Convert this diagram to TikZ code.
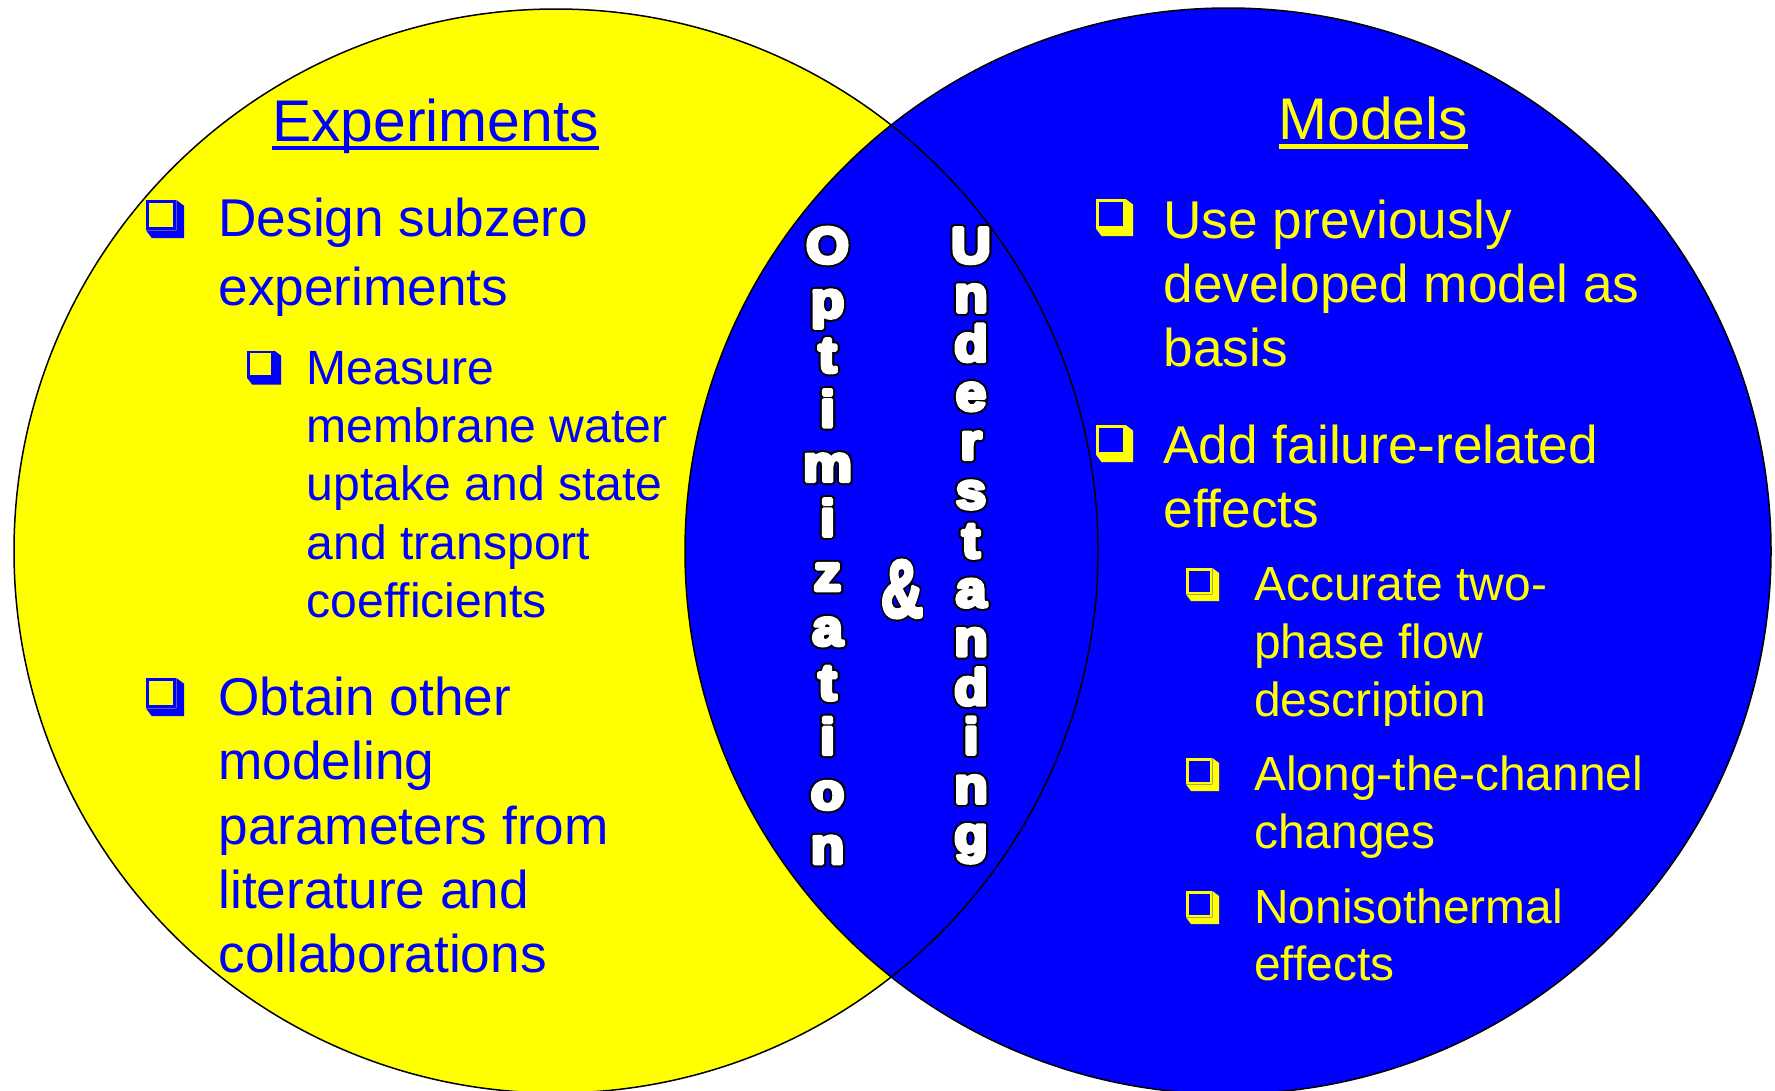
\documentclass[tikz,border=0pt]{standalone}
\usepackage{fontspec}
\setmainfont{Liberation Sans}
\newfontfamily\blackfont{Liberation Sans Bold}
\definecolor{venY}{RGB}{255,255,0}
\definecolor{venB}{RGB}{0,0,255}
% heavy white letter with a black outline: a thickly stroked black copy under a stroked white copy
\newcommand\outlined[1]{\rlap{\color{black}\special{pdf:code 2 Tr 7.6 w 1 j 0 0 0 RG}#1\special{pdf:code 0 Tr}}{\color{white}\special{pdf:code 2 Tr 3.6 w 1 j 1 1 1 RG}#1\special{pdf:code 0 Tr}}}
\newcommand\vlet[1]{\scalebox{1.08}[1]{\outlined{#1}}}
\begin{document}
\begin{tikzpicture}[x=1pt,y=-1pt,
  tx/.style={inner sep=0pt, outer sep=0pt, align=left, anchor=base west},
  lt/.style={tx, text=venB},
  rt/.style={tx, text=venY},
  big/.style={font=\fontsize{58.8}{60}\selectfont},
  vl/.style={inner sep=0pt, anchor=base, font=\blackfont\fontsize{51}{51}\selectfont},
  cbox/.pic={
    \fill (0.8*#1,0) -- (#1,0.15*#1) -- (#1,#1) -- (0.15*#1,#1) -- (0,0.8*#1) -- (0.8*#1,0.8*#1) -- cycle;
    \draw[line width=0.08*#1] (0.04*#1,0.04*#1) rectangle (0.76*#1,0.76*#1);
  }
]
\useasboundingbox (0,0) rectangle (1775,1090);
\fill[white] (0,0) rectangle (1775,1090);
% circles
\fill[venY] (556,551) circle[radius=542pt];
\fill[venB] (1228,551) circle[radius=543pt];
\draw[line width=1.5pt] (556,551) circle[radius=542pt];
\draw[line width=1.5pt] (1228,551) circle[radius=543pt];

% left side (multi-line nodes: anchor is the baseline of the last line)
\node[lt, big] (exp) at (272,141) {Experiments};
\draw[venB, line width=4.5pt] ([yshift=-7pt]exp.base west) -- ([yshift=-7pt]exp.base east);
\pic[color=venB] at (146,200) {cbox=38};
\node[lt, font=\fontsize{53.2}{68.3}\selectfont] (l1) at (218.5,305) {Design subzero\\experiments};
\pic[color=venB] at (247,350.5) {cbox=34};
\node[lt, font=\fontsize{48.1}{58.3}\selectfont] (l1a) at (306.8,617.5) {Measure\\membrane water\\uptake and state\\and transport\\coefficients};
\pic[color=venB] at (146,678) {cbox=38};
\node[lt, font=\fontsize{53.2}{64.2}\selectfont] (l2) at (218.5,972.5) {Obtain other\\modeling\\parameters from\\literature and\\collaborations};

% right side
\node[rt, big] (mod) at (1278.5,139.3) {Models};
\draw[venY, line width=4.5pt] ([yshift=-7pt]mod.base west) -- ([yshift=-7pt]mod.base east);
\pic[color=venY] at (1096,199) {cbox=37};
\node[rt, font=\fontsize{53.2}{64}\selectfont] (r1) at (1163.5,366) {Use previously\\developed model as\\basis};
\pic[color=venY] at (1096,425) {cbox=37};
\node[rt, font=\fontsize{53.2}{63.3}\selectfont] (r2) at (1163.5,527) {Add failure-related\\effects};
\pic[color=venY] at (1186,568) {cbox=33};
\node[rt, font=\fontsize{47.9}{57.7}\selectfont] (r2a) at (1254.3,716.1) {Accurate two-\\phase flow\\description};
\pic[color=venY] at (1186,758) {cbox=33};
\node[rt, font=\fontsize{47.9}{58}\selectfont] (r2b) at (1254.3,848) {Along-the-channel\\changes};
\pic[color=venY] at (1186,891) {cbox=33};
\node[rt, font=\fontsize{47.9}{57}\selectfont] (r2c) at (1254.3,980) {Nonisothermal\\effects};

% vertical words
\foreach \l [count=\i from 0] in {O,p,t,i,m,i,z,a,t,i,o,n}
  \node[vl] (o\i) at (827.5,{263+\i*54.6}) {\vlet{\l}};
\foreach \l [count=\i from 0] in {U,n,d,e,r,s,t,a,n,d,i,n,g}
  \node[vl] (u\i) at (971,{263+\i*49.1}) {\vlet{\l}};
\node[inner sep=0pt] (amp) at (902,589) {\scalebox{0.72}[1]{\blackfont\fontsize{82}{82}\selectfont\outlined{\&}}};
\end{tikzpicture}
\end{document}
